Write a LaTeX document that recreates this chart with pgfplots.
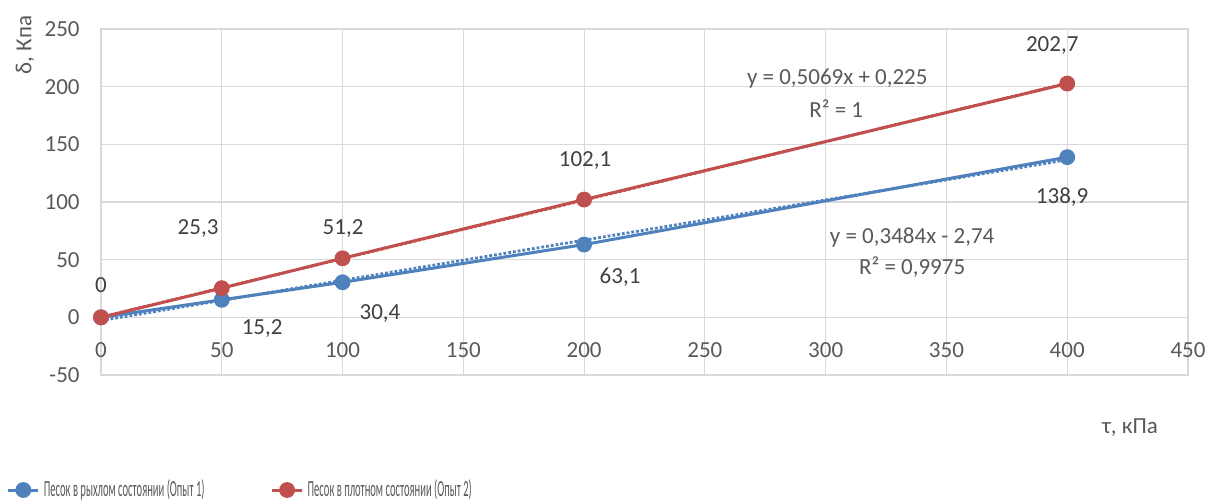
\documentclass[border=0pt]{standalone}
\usepackage{fontspec}
\setmainfont{Carlito}
\usepackage{graphicx}
\usepackage{pgfplots}
\pgfplotsset{compat=1.18}
\definecolor{xblue}{HTML}{4F81BD}
\definecolor{xred}{HTML}{C0504D}
\definecolor{xgrid}{HTML}{D9D9D9}
\definecolor{xtext}{HTML}{595959}
\definecolor{xlab}{HTML}{404040}
\begin{document}
\begin{tikzpicture}[font=\fontsize{11.5}{13}\selectfont]
\useasboundingbox (-50.5pt,-62.5pt) rectangle (560pt,187.5pt);
\begin{axis}[
  at={(0,0)}, anchor=south west,
  scale only axis, width=543.5pt, height=173pt,
  xmin=0, xmax=450, ymin=-50, ymax=250,
  xtick={0,50,...,450}, ytick={-50,0,...,250},
  grid=major, major grid style={xgrid, line width=0.6pt},
  axis line style={xgrid, line width=0.6pt},
  major tick length=0pt,
  tick label style={text=xtext, font=\fontsize{11.5}{13}\selectfont},
  xticklabel style={anchor=center, yshift=12.5pt},
  yticklabel style={anchor=east, inner sep=0pt, xshift=-10.5pt},
  /pgf/number format/assume math mode=true,
  clip=false,
  legend columns=2,
  legend image code/.code={\draw[mark repeat=2,mark phase=2] plot coordinates {(0pt,0pt)(7.5pt,0pt)(15pt,0pt)};},
  legend style={at={(axis description cs:-0.087,-0.3324)}, anchor=west, draw=none, fill=none,
    inner sep=0pt, font=\fontsize{11.5}{13}\selectfont, text=xtext,
    /tikz/every even column/.append style={column sep=31pt}},
  legend cell align=left,
]
% trendlines
\addplot[xblue, line width=1.4pt, densely dotted, forget plot] coordinates {(0,-2.74) (400,136.62)};
\addplot[xred, line width=1.4pt, densely dotted, forget plot] coordinates {(0,0.225) (400,202.985)};
% series
\addplot[xblue, line width=1.5pt, mark=*, mark size=3.2pt, mark options={solid, fill=xblue, draw=xblue}]
  coordinates {(0,0) (50,15.2) (100,30.4) (200,63.1) (400,138.9)};
\addlegendentry{\scalebox{0.46}[1]{Песок в рыхлом состоянии (Опыт 1)}}
\addplot[xred, line width=1.5pt, mark=*, mark size=3.2pt, mark options={solid, fill=xred, draw=xred}]
  coordinates {(0,0) (50,25.3) (100,51.2) (200,102.1) (400,202.7)};
\addlegendentry{\scalebox{0.46}[1]{Песок в плотном состоянии (Опыт 2)}}
% data labels
\begin{scope}[every node/.style={text=xlab, inner sep=0pt}]
\node at (axis cs:0,27.7) {0};
\node at (axis cs:40.2,77.3) {25,3};
\node at (axis cs:100.2,77.3) {51,2};
\node at (axis cs:200.4,136.1) {102,1};
\node at (axis cs:393.8,235.9) {202,7};
\node at (axis cs:66.7,-9.5) {15,2};
\node at (axis cs:115.5,3.5) {30,4};
\node at (axis cs:214.9,34.7) {63,1};
\node at (axis cs:397.9,104) {138,9};
\end{scope}
\begin{scope}[every node/.style={text=xtext, inner sep=0pt}]
\node at (axis cs:304.8,207.2) {y = 0,5069x + 0,225};
\node at (axis cs:304.4,181.2) {R² = 1};
\node at (axis cs:335.8,69.4) {y = 0,3484x - 2,74};
\node at (axis cs:335.8,43.4) {R² = 0,9975};
\end{scope}
\end{axis}
\node[rotate=90, text=xtext, inner sep=0pt] at (-38pt,165pt) {δ, Кпа};
\node[text=xtext, inner sep=0pt] at (514.5pt,-26.5pt) {τ, кПа};
\end{tikzpicture}
\end{document}
